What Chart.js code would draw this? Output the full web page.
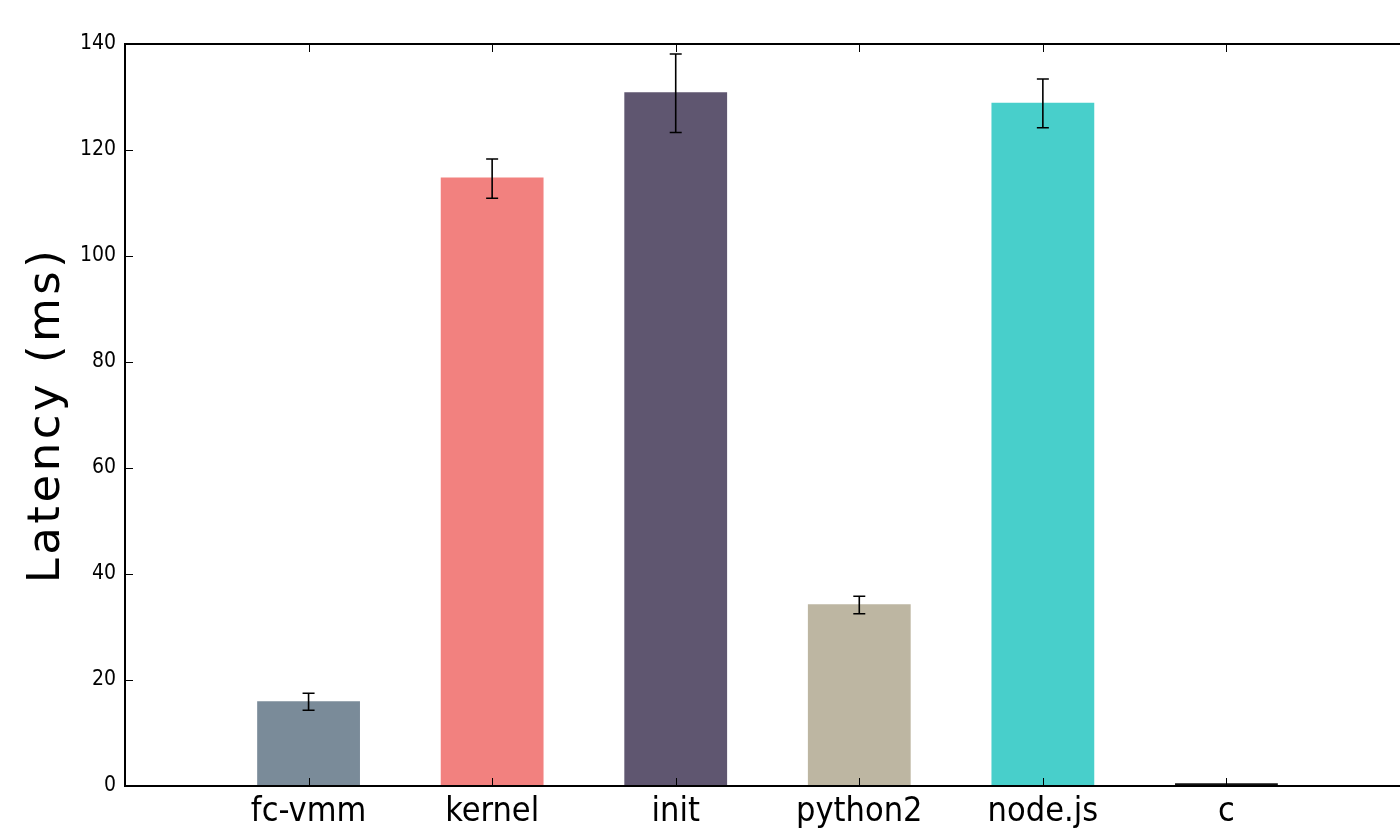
<!DOCTYPE html>
<html lang="en">
<head>
  <meta charset="UTF-8">
  <title>Latency</title>
  <script src="https://cdn.jsdelivr.net/npm/chart.js"></script>
  <style>
    html, body { margin: 0; padding: 0; background: #fff; overflow: hidden; }
  </style>
</head>
<body>
  <canvas id="latencyChart" width="1410" height="832"></canvas>

  <script>
    // data
    var categories = ['fc-vmm', 'kernel', 'init', 'python2', 'node.js', 'c'];
    var latency    = [16.0, 114.8, 130.9, 34.3, 128.9, 0.5];
    var errLow     = [14.3, 110.9, 123.3, 32.5, 124.2, 0.5];
    var errHigh    = [17.5, 118.3, 138.1, 35.8, 133.4, 0.5];
    var barColors  = ['#7a8b99', '#f2817f', '#5f5670', '#bdb6a2', '#48cfcb', '#111111'];
    var yTicks     = [0, 20, 40, 60, 80, 100, 120, 140];
    var yTitle     = 'Latency (ms)';

    // an empty slot on each side, like xlim(0, 7)
    var labels = [''].concat(categories, ['']);
    var values = [null].concat(latency, [null]);
    var colors = ['#fff'].concat(barColors, ['#fff']);

    // inward ticks, frame box, error bars and the y title
    var framePlugin = {
      id: 'frame',
      afterDatasetsDraw: function(chart) {
        var c = chart.ctx;
        var a = chart.chartArea;
        var x = chart.scales.x, y = chart.scales.y;
        c.save();

        // error bars
        c.strokeStyle = '#000';
        c.lineWidth = 1.6;
        for (var i = 0; i < categories.length; i++) {
          if (errHigh[i] - errLow[i] < 0.5) continue;
          var px = x.getPixelForValue(i + 1);
          var lo = y.getPixelForValue(errLow[i]);
          var hi = y.getPixelForValue(errHigh[i]);
          c.beginPath();
          c.moveTo(px, lo); c.lineTo(px, hi);
          c.moveTo(px - 6, lo); c.lineTo(px + 6, lo);
          c.moveTo(px - 6, hi); c.lineTo(px + 6, hi);
          c.stroke();
        }

        // tick marks pointing in
        c.lineWidth = 1;
        c.beginPath();
        yTicks.forEach(function(v) {
          var py = Math.round(y.getPixelForValue(v)) + 0.5;
          c.moveTo(a.left, py); c.lineTo(a.left + 8, py);
          c.moveTo(a.right, py); c.lineTo(a.right - 8, py);
        });
        for (var k = 1; k <= categories.length; k++) {
          var tx = Math.round(x.getPixelForValue(k)) + 0.5;
          c.moveTo(tx, a.bottom); c.lineTo(tx, a.bottom - 8);
          c.moveTo(tx, a.top); c.lineTo(tx, a.top + 8);
        }
        c.stroke();

        // frame
        c.lineWidth = 2;
        c.strokeRect(a.left, a.top, a.right - a.left, a.bottom - a.top);

        // rotated y title, a bit wider spaced than the default
        c.translate(47, (a.top + a.bottom) / 2);
        c.rotate(-Math.PI / 2);
        c.font = "45px 'DejaVu Sans'";
        c.letterSpacing = '3.5px';
        c.fillStyle = '#000';
        c.textAlign = 'center';
        c.textBaseline = 'middle';
        c.fillText(yTitle, 0, 0);
        c.restore();
      }
    };

    var ctx = document.getElementById('latencyChart').getContext('2d');
    var chart = new Chart(ctx, {
      type: 'bar',
      data: {
        labels: labels,
        datasets: [{
          data: values,
          backgroundColor: colors,
          borderWidth: 0,
          barPercentage: 0.56,
          categoryPercentage: 1.0
        }]
      },
      options: {
        responsive: false,
        animation: false,
        layout: { padding: { top: 44, left: 0, right: 0, bottom: 0 } },
        plugins: {
          legend: { display: false },
          tooltip: { enabled: false }
        },
        scales: {
          x: {
            offset: false,
            grid: { display: false, drawTicks: false },
            border: { display: false },
            ticks: {
              autoSkip: false,
              maxRotation: 0,
              padding: 6,
              color: '#000',
              font: { family: "'DejaVu Sans Condensed', 'DejaVu Sans'", size: 34 }
            },
            afterFit: function(s) {
              s.height = 46;
              s.paddingLeft = 0;
              s.paddingRight = 0;
            }
          },
          y: {
            min: 0,
            max: 140,
            grid: { display: false, drawTicks: false },
            border: { display: false },
            ticks: {
              stepSize: 20,
              padding: 9,
              color: '#000',
              font: { family: "'DejaVu Sans Condensed', 'DejaVu Sans'", size: 21 }
            },
            afterFit: function(s) { s.width = 125; }
          }
        }
      },
      plugins: [framePlugin]
    });
  </script>
</body>
</html>
